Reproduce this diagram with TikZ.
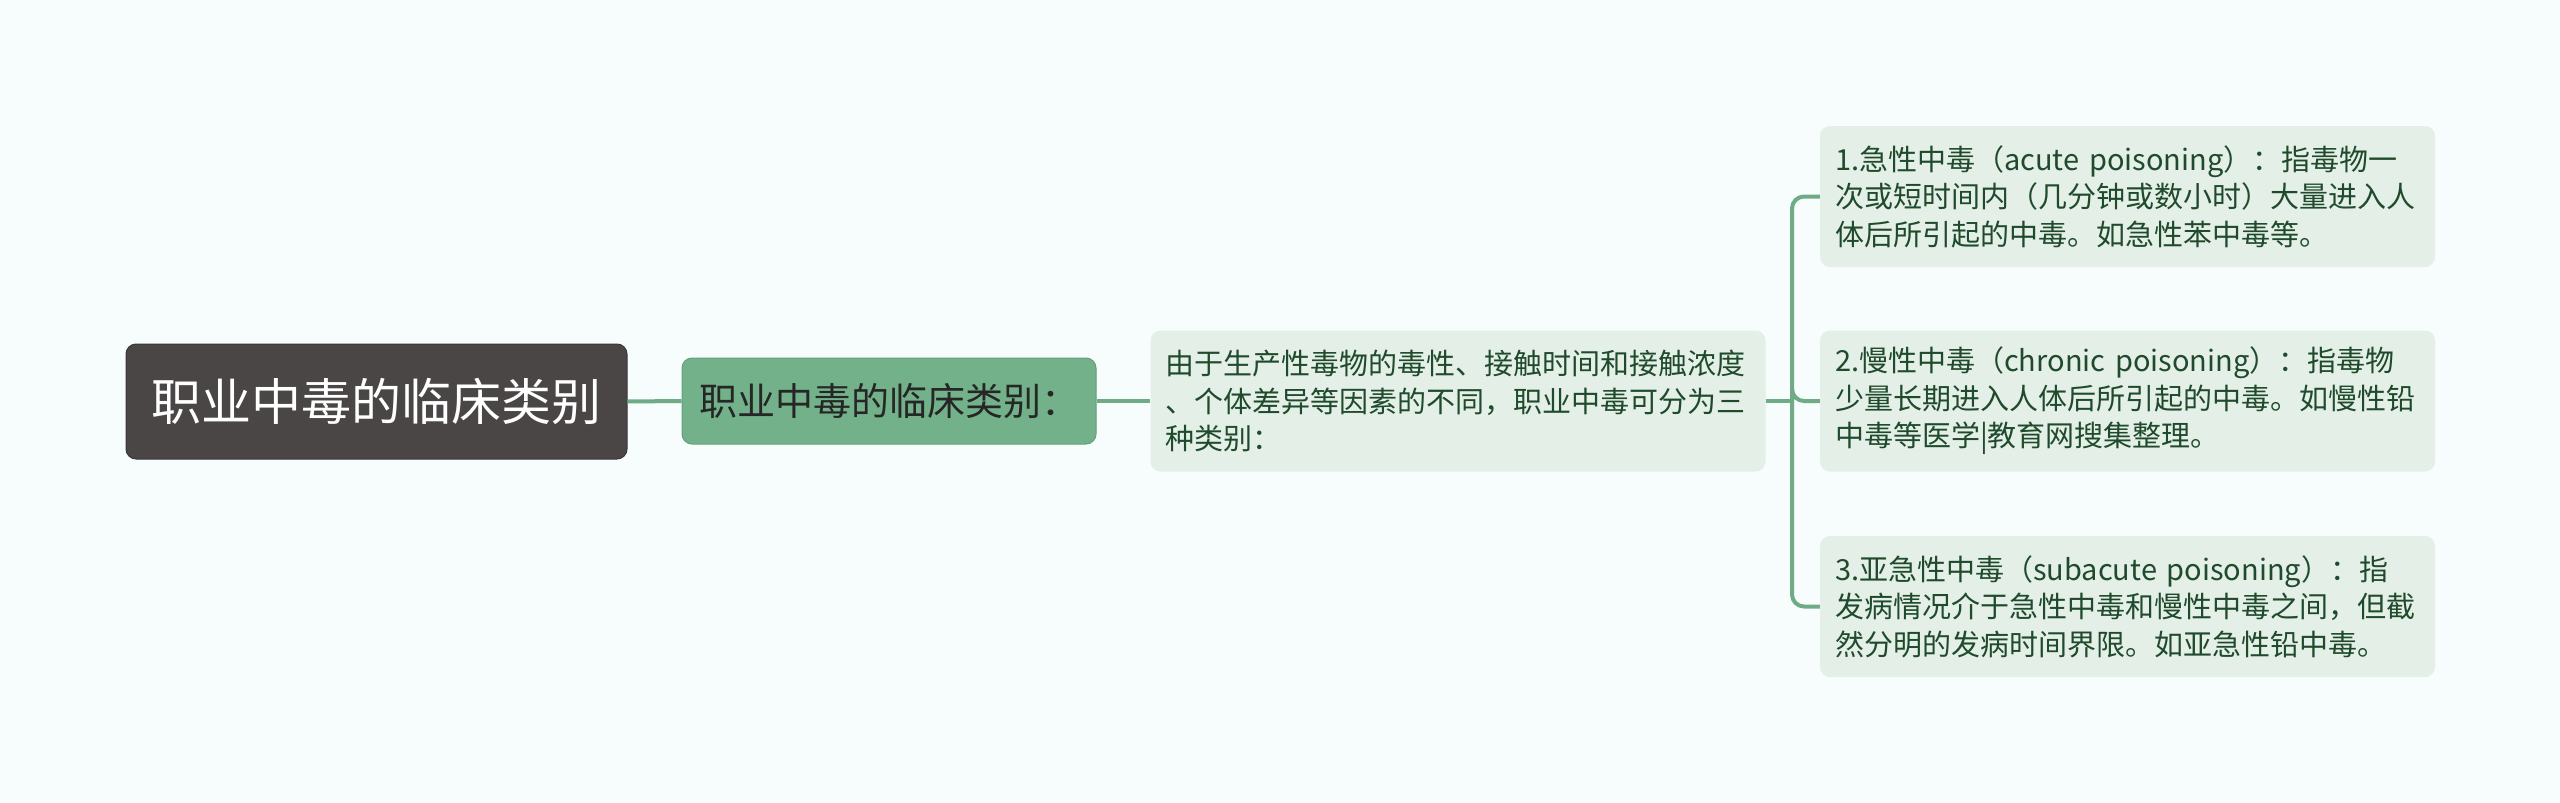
\documentclass[tikz,border=0pt]{standalone}
\usepackage{fontspec}
\setmainfont{Noto Sans CJK SC}
\usepackage{tikz}
\definecolor{bgc}{HTML}{F7FCFC}
\definecolor{rootc}{HTML}{4B4646}
\definecolor{midc}{HTML}{72B189}
\definecolor{leafc}{HTML}{E4EFE7}
\definecolor{linkc}{HTML}{6FAC85}
\definecolor{leaftext}{HTML}{1F4A2C}
\tikzset{
    rootbox/.style={fill=rootc, draw=rootc!80!black, line width=1pt, rounded corners=10pt,
        minimum width=501pt, minimum height=115pt, inner sep=0pt, text=white,
        font=\fontsize{50}{58}\selectfont},
    midbox/.style={fill=midc, draw=midc!90!black, line width=1pt, rounded corners=10pt,
        minimum width=414pt, minimum height=86pt, inner sep=0pt, text=black!85,
        font=\fontsize{38}{46}\selectfont},
    leafbox/.style={fill=leafc, rounded corners=10pt, minimum width=615pt,
        minimum height=141pt, inner xsep=15pt, inner ysep=0pt, text width=585pt,
        align=left, text=leaftext, font=\fontsize{29}{37.5}\selectfont},
    link/.style={draw=linkc, line width=4pt, rounded corners=12pt}
}

\begin{document}
\begin{tikzpicture}[x=1pt,y=-1pt]
        \fill[bgc] (0,0) rectangle (2560,803);

        \coordinate (r) at (376.5,401.5);
        \coordinate (c) at (889,401);
        \coordinate (m) at (1458,401);
        \coordinate (fork) at (1792,401);
        \coordinate (p1) at (2127.5,196.5);
        \coordinate (p2) at (2127.5,401);
        \coordinate (p3) at (2127.5,606.5);

        \node[rootbox] (root) at (r) {职业中毒的临床类别};
        \node[midbox] (cat) at (c) {职业中毒的临床类别：};
        \node[leafbox] (mid) at (m) {由于生产性毒物的毒性、接触时间和接触浓度\\
            、个体差异等因素的不同，职业中毒可分为三\\种类别：};
        \node[leafbox] (l1) at (p1) {1.急性中毒（acute poisoning）：指毒物一\\
            次或短时间内（几分钟或数小时）大量进入人\\体后所引起的中毒。如急性苯中毒等。};
        \node[leafbox] (l2) at (p2) {2.慢性中毒（chronic poisoning）：指毒物\\
            少量长期进入人体后所引起的中毒。如慢性铅\\中毒等医学|教育网搜集整理。};
        \node[leafbox] (l3) at (p3) {3.亚急性中毒（subacute poisoning）：指\\
            发病情况介于急性中毒和慢性中毒之间，但截\\然分明的发病时间界限。如亚急性铅中毒。};

        \draw[link] (root.east) -- (cat.west);
        \draw[link] (cat.east) -- (mid.west);
        \draw[link] (mid.east) -- (fork);

        \foreach \n in {l1,l2,l3}
            \draw[link] (fork) |- (\n.west);
    \end{tikzpicture}
\end{document}
